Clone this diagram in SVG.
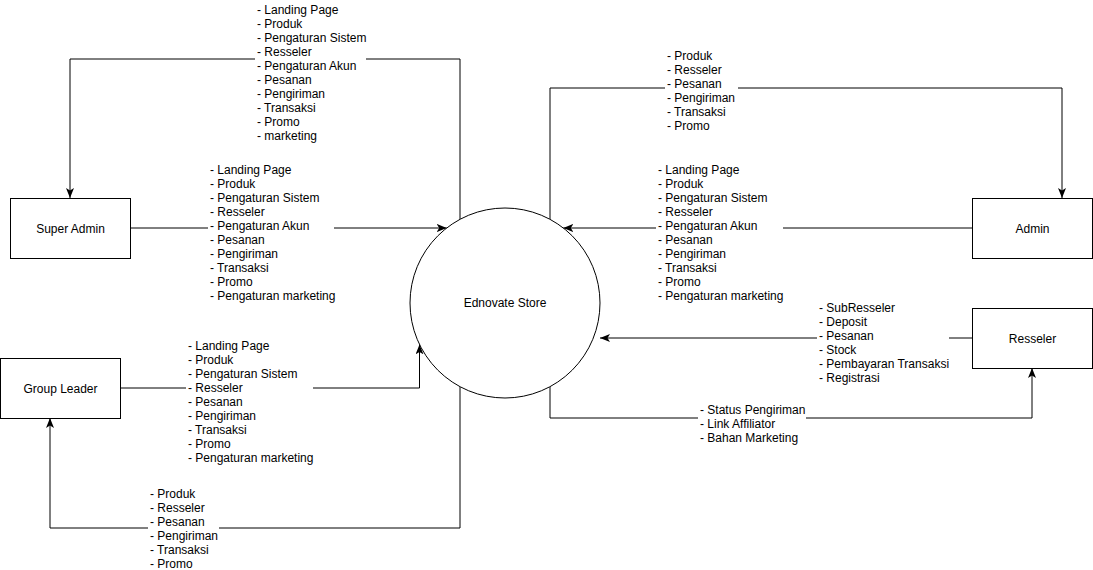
<svg xmlns="http://www.w3.org/2000/svg" width="1093" height="570" viewBox="0 0 1093 570">
<style>
.node{fill:#fff;stroke:#000;stroke-width:1}
.nl{font-family:"Liberation Sans",Arial,sans-serif;font-size:12px;fill:#000;text-anchor:middle}
.el{font-family:"Liberation Sans",Arial,sans-serif;font-size:12px;fill:#000}
.edge{fill:none;stroke:#000;stroke-width:1}
.bg{fill:#fff}
</style>
<defs>
<marker id="arr" markerUnits="userSpaceOnUse" markerWidth="10" markerHeight="8" refX="10" refY="4" orient="auto">
<path d="M0,0 L10,4 L0,8 L2.5,4 Z" fill="#000"/>
</marker>
</defs>
<rect width="1093" height="570" fill="#fff"/>
<g id="connectors">
<path class="edge" d="M460,219.3 V59 H70 V198" marker-end="url(#arr)"/>
<path class="edge" d="M130,228 H446.7" marker-end="url(#arr)"/>
<path class="edge" d="M120,388 H419.5 V344.4" marker-end="url(#arr)"/>
<path class="edge" d="M460,386.7 V528 H50 V418" marker-end="url(#arr)"/>
<path class="edge" d="M550,219.3 V88 H1062 V198" marker-end="url(#arr)"/>
<path class="edge" d="M972,228 H563.3" marker-end="url(#arr)"/>
<path class="edge" d="M972,338 H600" marker-end="url(#arr)"/>
<path class="edge" d="M550,386.7 V418 H1032 V368" marker-end="url(#arr)"/>
<g id="edge-labels">
<rect class="bg" x="255" y="1" width="111" height="144"/>
<text class="el"><tspan x="257" y="14">- Landing Page</tspan><tspan x="257" dy="14">- Produk</tspan><tspan x="257" dy="14">- Pengaturan Sistem</tspan><tspan x="257" dy="14">- Resseler</tspan><tspan x="257" dy="14">- Pengaturan Akun</tspan><tspan x="257" dy="14">- Pesanan</tspan><tspan x="257" dy="14">- Pengiriman</tspan><tspan x="257" dy="14">- Transaksi</tspan><tspan x="257" dy="14">- Promo</tspan><tspan x="257" dy="14">- marketing</tspan></text>
<rect class="bg" x="208" y="161" width="126" height="144"/>
<text class="el"><tspan x="210" y="174">- Landing Page</tspan><tspan x="210" dy="14">- Produk</tspan><tspan x="210" dy="14">- Pengaturan Sistem</tspan><tspan x="210" dy="14">- Resseler</tspan><tspan x="210" dy="14">- Pengaturan Akun</tspan><tspan x="210" dy="14">- Pesanan</tspan><tspan x="210" dy="14">- Pengiriman</tspan><tspan x="210" dy="14">- Transaksi</tspan><tspan x="210" dy="14">- Promo</tspan><tspan x="210" dy="14">- Pengaturan marketing</tspan></text>
<rect class="bg" x="186" y="338" width="127" height="130"/>
<text class="el"><tspan x="188" y="350">- Landing Page</tspan><tspan x="188" dy="14">- Produk</tspan><tspan x="188" dy="14">- Pengaturan Sistem</tspan><tspan x="188" dy="14">- Resseler</tspan><tspan x="188" dy="14">- Pesanan</tspan><tspan x="188" dy="14">- Pengiriman</tspan><tspan x="188" dy="14">- Transaksi</tspan><tspan x="188" dy="14">- Promo</tspan><tspan x="188" dy="14">- Pengaturan marketing</tspan></text>
<rect class="bg" x="148" y="486" width="71" height="84"/>
<text class="el"><tspan x="150" y="498">- Produk</tspan><tspan x="150" dy="14">- Resseler</tspan><tspan x="150" dy="14">- Pesanan</tspan><tspan x="150" dy="14">- Pengiriman</tspan><tspan x="150" dy="14">- Transaksi</tspan><tspan x="150" dy="14">- Promo</tspan></text>
<rect class="bg" x="665" y="48" width="73" height="86"/>
<text class="el"><tspan x="667" y="60">- Produk</tspan><tspan x="667" dy="14">- Resseler</tspan><tspan x="667" dy="14">- Pesanan</tspan><tspan x="667" dy="14">- Pengiriman</tspan><tspan x="667" dy="14">- Transaksi</tspan><tspan x="667" dy="14">- Promo</tspan></text>
<rect class="bg" x="656" y="161" width="127" height="144"/>
<text class="el"><tspan x="658" y="174">- Landing Page</tspan><tspan x="658" dy="14">- Produk</tspan><tspan x="658" dy="14">- Pengaturan Sistem</tspan><tspan x="658" dy="14">- Resseler</tspan><tspan x="658" dy="14">- Pengaturan Akun</tspan><tspan x="658" dy="14">- Pesanan</tspan><tspan x="658" dy="14">- Pengiriman</tspan><tspan x="658" dy="14">- Transaksi</tspan><tspan x="658" dy="14">- Promo</tspan><tspan x="658" dy="14">- Pengaturan marketing</tspan></text>
<rect class="bg" x="817" y="300" width="132" height="86"/>
<text class="el"><tspan x="819" y="312">- SubResseler</tspan><tspan x="819" dy="14">- Deposit</tspan><tspan x="819" dy="14">- Pesanan</tspan><tspan x="819" dy="14">- Stock</tspan><tspan x="819" dy="14">- Pembayaran Transaksi</tspan><tspan x="819" dy="14">- Registrasi</tspan></text>
<rect class="bg" x="698" y="402" width="108" height="44"/>
<text class="el"><tspan x="700" y="414">- Status Pengiriman</tspan><tspan x="700" dy="14">- Link Affiliator</tspan><tspan x="700" dy="14">- Bahan Marketing</tspan></text>
</g>
</g>
<g id="super-admin"><rect class="node" x="10.5" y="198.5" width="120" height="60"/><text class="nl" x="70.5" y="232.5">Super Admin</text></g>
<g id="admin"><rect class="node" x="972.5" y="198.5" width="120" height="60"/><text class="nl" x="1032.5" y="232.5">Admin</text></g>
<g id="resseler"><rect class="node" x="972.5" y="308.5" width="120" height="60"/><text class="nl" x="1032.5" y="342.5">Resseler</text></g>
<g id="group-leader"><rect class="node" x="0.5" y="358.5" width="120" height="60"/><text class="nl" x="60.5" y="392.5">Group Leader</text></g>
<g id="ednovate-store"><circle class="node" cx="505" cy="303" r="95"/><text class="nl" x="505" y="307">Ednovate Store</text></g>
</svg>
